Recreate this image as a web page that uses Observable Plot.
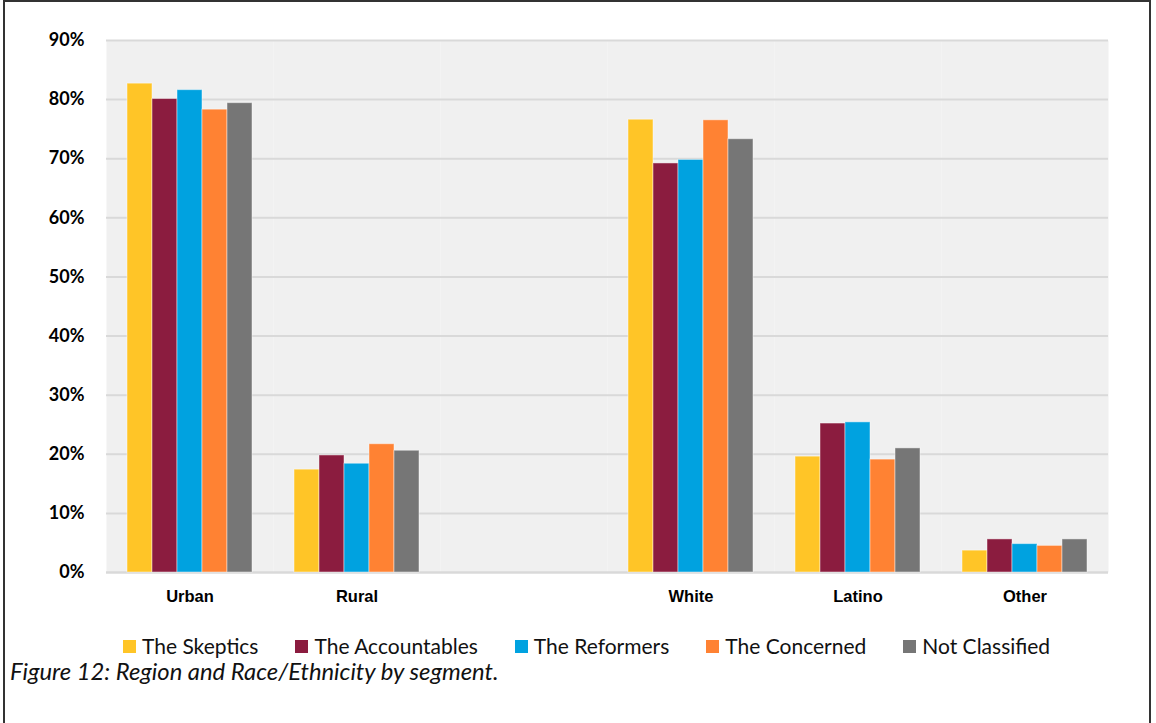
<!DOCTYPE html>
<html>
<head>
<meta charset="utf-8">
<script src="https://cdn.jsdelivr.net/npm/d3@7"></script>
<script src="https://cdn.jsdelivr.net/npm/@observablehq/plot@0.6"></script>
<style>
  html, body { margin: 0; padding: 0; background: #fff; }
  #page { position: relative; width: 1156px; height: 723px; overflow: hidden; }
  #border { position: absolute; left: 3px; top: 0; width: 1148px; height: 740px; border: 2px solid #333; box-sizing: border-box; }
  #chart { position: absolute; left: 0; top: 0; }
  #legend { position: absolute; left: 123px; top: 632px; display: flex; align-items: center; font-family: Lato, sans-serif; font-size: 21px; color: #111; white-space: nowrap; line-height: 28px; }
  #legend .item { display: flex; align-items: center; margin-right: 37px; }
  #legend .sw { width: 13px; height: 13px; margin-right: 6px; }
  #caption { position: absolute; left: 10px; top: 656px; font-family: Lato, sans-serif; font-style: italic; font-size: 23.8px; line-height: 30px; color: #111; white-space: nowrap; }
</style>
</head>
<body>
<div id="page">
  <div id="border"></div>
  <div id="chart"></div>
  <div id="legend"></div>
  <div id="caption">Figure 12: Region and Race/Ethnicity by segment.</div>
</div>
<script>
// Category slots (blank slot separates Region from Race/Ethnicity)
const slots = ["Urban", "Rural", "", "White", "Latino", "Other"];
const groups = ["Urban", "Rural", "White", "Latino", "Other"];
const segments = ["The Skeptics", "The Accountables", "The Reformers", "The Concerned", "Not Classified"];
const colors = ["#FFC527", "#8B1C3F", "#00A2E0", "#FF8233", "#767676"];

// Percent values per segment, aligned with groups
const skeptics      = [82.7, 17.4, 76.6, 19.6, 3.7];
const accountables  = [80.1, 19.8, 69.2, 25.2, 5.6];
const reformers     = [81.6, 18.4, 69.8, 25.4, 4.8];
const concerned     = [78.3, 21.7, 76.5, 19.1, 4.5];
const notClassified = [79.4, 20.6, 73.3, 21.0, 5.6];

const yTicks = [0, 10, 20, 30, 40, 50, 60, 70, 80, 90];

const seriesValues = [skeptics, accountables, reformers, concerned, notClassified];
const data = [];
groups.forEach((g, i) => {
  segments.forEach((s, j) => {
    data.push({group: g, segment: s, value: seriesValues[j][i]});
  });
});

const chart = Plot.plot({
  width: 1156,
  height: 617,
  marginTop: 40,
  marginBottom: 45,
  marginLeft: 103,
  marginRight: 46,
  style: {background: "transparent", color: "#000"},
  fx: {domain: slots, padding: 0, label: null, axis: null},
  x: {domain: segments, paddingInner: 0, paddingOuter: 0.74, axis: null},
  y: {domain: [0, 90], label: null, axis: null},
  color: {domain: segments, range: colors},
  marks: [
    Plot.frame({fill: "#f0f0f0", stroke: "none"}),
    Plot.gridY(yTicks, {stroke: "#d9d9d9", strokeOpacity: 1, strokeWidth: 2}),
    Plot.ruleY(slots, {fx: d => d, y: 0, stroke: "#d9d9d9", strokeWidth: 2}),
    Plot.barY(data, {fx: "group", x: "segment", y: "value", fill: "segment", stroke: "#ffffff", strokeOpacity: 0.45, strokeWidth: 1}),
    Plot.axisY(yTicks, {anchor: "left", tickSize: 0, tickPadding: 22, tickFormat: d => d + "%", fontSize: 18, fontWeight: "bold", fontFamily: "Lato, sans-serif", label: null}),
    Plot.axisFx({anchor: "bottom", tickSize: 0, tickPadding: 18, fontSize: 16.5, fontWeight: "bold", fontFamily: "'Liberation Sans', Arial, sans-serif", label: null})
  ]
});
document.getElementById("chart").appendChild(chart);

const legend = document.getElementById("legend");
segments.forEach((s, i) => {
  const item = document.createElement("div");
  item.className = "item";
  const sw = document.createElement("div");
  sw.className = "sw";
  sw.style.background = colors[i];
  const t = document.createElement("span");
  t.textContent = s;
  item.appendChild(sw);
  item.appendChild(t);
  legend.appendChild(item);
});
</script>
</body>
</html>
